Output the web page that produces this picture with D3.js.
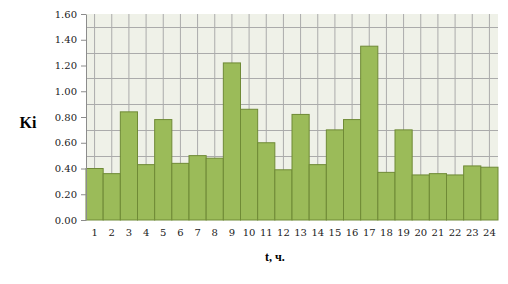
<!DOCTYPE html>
<html>
<head>
<meta charset="utf-8">
<script src="https://cdn.jsdelivr.net/npm/d3@7"></script>
<style>
  body { margin: 0; background: #fff; }
  svg { display: block; }
</style>
</head>
<body>
<svg id="chart" width="508" height="284"></svg>
<script>
// hours of the day and Ki value per hour
const hours = d3.range(1, 25).map(String);
const kiValues = [0.40, 0.36, 0.84, 0.43, 0.78, 0.44, 0.50, 0.48, 1.22, 0.86,
                  0.60, 0.39, 0.82, 0.43, 0.70, 0.78, 1.35, 0.37, 0.70, 0.35,
                  0.36, 0.35, 0.42, 0.41];
const yTicks = [0, 0.2, 0.4, 0.6, 0.8, 1.0, 1.2, 1.4, 1.6];

const margin = {left: 86, right: 10, top: 14, bottom: 64};
const width = 508, height = 284;

const svg = d3.select("#chart");

const x = d3.scaleBand()
    .domain(hours)
    .range([margin.left, width - margin.right])
    .padding(0);

const y = d3.scaleLinear()
    .domain([0, 1.6])
    .range([height - margin.bottom, margin.top]);

// plot background
svg.append("rect")
    .attr("x", margin.left)
    .attr("y", margin.top)
    .attr("width", x.range()[1] - margin.left)
    .attr("height", y(0) - margin.top)
    .attr("fill", "#eff1e8");

// grid: vertical through category centres, horizontal between ticks
svg.append("g")
    .selectAll("line")
    .data(hours)
    .join("line")
    .attr("x1", d => x(d) + x.bandwidth() / 2)
    .attr("x2", d => x(d) + x.bandwidth() / 2)
    .attr("y1", y(1.6))
    .attr("y2", y(0))
    .attr("stroke", "#ababab")
    .attr("stroke-width", 1);

svg.append("g")
    .selectAll("line")
    .data(d3.range(0.1, 1.6, 0.2))
    .join("line")
    .attr("x1", margin.left)
    .attr("x2", x.range()[1])
    .attr("y1", d => Math.round(y(d)) + 0.5)
    .attr("y2", d => Math.round(y(d)) + 0.5)
    .attr("stroke", "#ababab")
    .attr("stroke-width", 1);

// bars
svg.append("g")
    .selectAll("rect")
    .data(kiValues)
    .join("rect")
    .attr("x", (d, i) => x(hours[i]))
    .attr("y", d => y(d))
    .attr("width", x.bandwidth())
    .attr("height", d => y(0) - y(d))
    .attr("fill", "#9bbb59")
    .attr("stroke", "#6f8a36")
    .attr("stroke-width", 1);

// y axis
const yAxis = svg.append("g")
    .attr("transform", `translate(${margin.left},0)`)
    .call(d3.axisLeft(y).tickValues(yTicks).tickFormat(d3.format(".2f")).tickSize(5).tickSizeOuter(0));
yAxis.select(".domain").attr("stroke", "#8c8c8c");
yAxis.selectAll(".tick line").attr("stroke", "#8c8c8c");
yAxis.selectAll("text")
    .attr("x", -9)
    .attr("fill", "#222")
    .style("font-family", "DejaVu Serif")
    .style("font-size", "10px");

// x axis labels
const xAxis = svg.append("g")
    .attr("transform", `translate(0,${y(0)})`)
    .call(d3.axisBottom(x).tickSize(0));
xAxis.select(".domain").remove();
xAxis.selectAll("text")
    .attr("y", 9)
    .attr("fill", "#222")
    .style("font-family", "DejaVu Serif")
    .style("font-size", "10px");

// axis titles
svg.append("text")
    .attr("x", 28)
    .attr("y", 128)
    .attr("text-anchor", "middle")
    .style("font-family", "Liberation Serif")
    .style("font-weight", "bold")
    .style("font-size", "16px")
    .text("Ki");

svg.append("text")
    .attr("x", 275)
    .attr("y", 261)
    .attr("text-anchor", "middle")
    .style("font-family", "Liberation Serif")
    .style("font-weight", "bold")
    .style("font-size", "12px")
    .text("t, ч.");
</script>
</body>
</html>
